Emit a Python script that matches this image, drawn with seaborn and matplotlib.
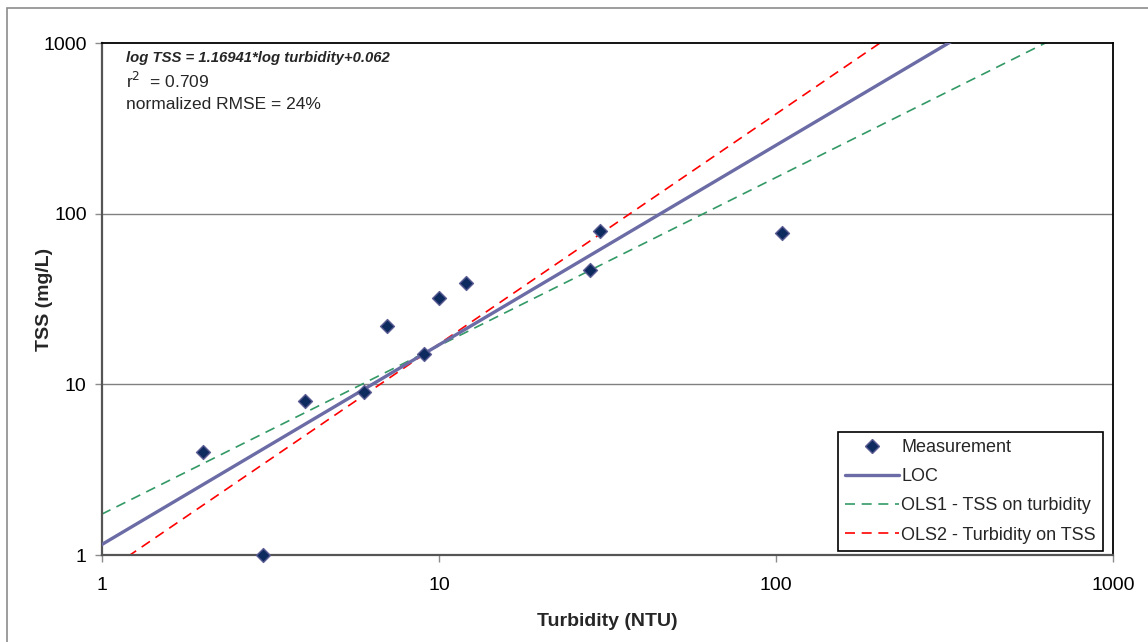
import numpy as np
import pandas as pd
import matplotlib
matplotlib.use("Agg")
import matplotlib.pyplot as plt
import seaborn as sns
from matplotlib.lines import Line2D
from matplotlib.patches import Rectangle

# ---- data ----
turbidity = [2, 3, 4, 6, 7, 9, 10, 12, 28, 30, 104]
tss = [4, 1, 8, 9, 22, 15, 32, 39, 47, 79, 77]

# regression lines: log10(TSS) = slope*log10(turbidity) + intercept
line_names = ["LOC", "OLS1 - TSS on turbidity", "OLS2 - Turbidity on TSS"]
line_slopes = [1.16941, 0.986, 1.348]
line_intercepts = [0.062, 0.240, -0.112]
line_colors = ["#6B6BA6", "#339966", "#FF0000"]

x_ticks = [1, 10, 100, 1000]
y_ticks = [1, 10, 100, 1000]

sns.set_theme(style="white")
plt.rcParams["font.family"] = ["Liberation Sans", "DejaVu Sans"]

fig = plt.figure(figsize=(11.48, 6.42), dpi=100)
fig.patch.set_facecolor("white")
ax = fig.add_axes([102 / 1148, 1 - 555 / 642, (1113 - 102) / 1148, (555 - 43) / 642])

# outer chart border (left/top visible)
fig.patches.append(Rectangle((7 / 1148, -0.1), 1.2, 1 - 8 / 642 + 0.1,
                             transform=fig.transFigure, fill=False,
                             edgecolor="#8C8C8C", linewidth=1.2, zorder=-1))

ax.set_xscale("log")
ax.set_yscale("log")

xs = np.geomspace(0.9, 1100, 50)
for name, m, b, c in zip(line_names, line_slopes, line_intercepts, line_colors):
    ys = 10 ** (m * np.log10(xs) + b)
    df = pd.DataFrame({"x": xs, "y": ys})
    if name == "LOC":
        sns.lineplot(data=df, x="x", y="y", ax=ax, color=c, linewidth=2.4,
                     zorder=3, legend=False)
    else:
        sns.lineplot(data=df, x="x", y="y", ax=ax, color=c, linewidth=1.2,
                     dashes=False, zorder=2, legend=False)
        ax.lines[-1].set_dashes([6, 4])

pts = pd.DataFrame({"turbidity": turbidity, "tss": tss})
sns.scatterplot(data=pts, x="turbidity", y="tss", ax=ax, marker="D", s=50,
                color="#0D2B5E", edgecolor="#5C5C94", linewidth=1.0, zorder=5,
                clip_on=False, legend=False)

ax.set_xlim(1, 1000)
ax.set_ylim(1, 1000)
ax.set_xticks(x_ticks)
ax.set_xticklabels([str(v) for v in x_ticks])
ax.set_yticks(y_ticks)
ax.set_yticklabels([str(v) for v in y_ticks])
ax.minorticks_off()
ax.tick_params(axis="both", which="major", direction="out", length=5, width=1,
               color="#8C8C8C", labelsize=14, labelcolor="black")
ax.tick_params(axis="y", pad=6, left=True)
ax.tick_params(axis="x", pad=11, bottom=True)

ax.grid(False)
for v in [10, 100]:
    ax.axhline(v, color="#808080", linewidth=1.0, zorder=1)

for side in ["top", "right"]:
    ax.spines[side].set_color("black")
    ax.spines[side].set_linewidth(1.3)
for side in ["left", "bottom"]:
    ax.spines[side].set_color("#555555")
    ax.spines[side].set_linewidth(1.6)

ax.set_xlabel("Turbidity (NTU)", fontsize=14, fontweight="bold")
ax.xaxis.set_label_coords(0.5, -(630 - 555) / 512)
ax.xaxis.label.set_va("bottom")
ax.set_ylabel("TSS (mg/L)", fontsize=14, fontweight="bold")
ax.yaxis.set_label_coords(-(102 - 53) / 1011, 0.5)

# annotation
ax.text(126 / 1148, 1 - 62 / 642, "log TSS = 1.16941*log turbidity+0.062",
        transform=fig.transFigure, fontsize=10.7, fontweight="bold",
        fontstyle="italic", ha="left", va="baseline")
ax.text(126 / 1148, 1 - 88 / 642, r"r$^{2}$  = 0.709",
        transform=fig.transFigure, fontsize=12.5, ha="left", va="baseline")
ax.text(126 / 1148, 1 - 109 / 642, "normalized RMSE = 24%",
        transform=fig.transFigure, fontsize=12.5, ha="left", va="baseline")

handles = [
    Line2D([], [], marker="D", linestyle="none", markersize=7,
           markerfacecolor="#0D2B5E", markeredgecolor="#5C5C94"),
    Line2D([], [], color=line_colors[0], linewidth=2.4),
    Line2D([], [], color=line_colors[1], linewidth=1.2, dashes=[6, 4]),
    Line2D([], [], color=line_colors[2], linewidth=1.2, dashes=[6, 4]),
]
labels = ["Measurement"] + line_names
leg = ax.legend(handles, labels, loc="lower right",
                bbox_to_anchor=(1103 / 1148, 1 - 551 / 642),
                bbox_transform=fig.transFigure, fontsize=13, frameon=True,
                fancybox=False, edgecolor="black", framealpha=1,
                handlelength=3.0, handletextpad=0.1, borderpad=0.4,
                labelspacing=0.68, borderaxespad=0)
leg.get_frame().set_linewidth(1.2)

fig.savefig("out.png", dpi=100, facecolor="white")
